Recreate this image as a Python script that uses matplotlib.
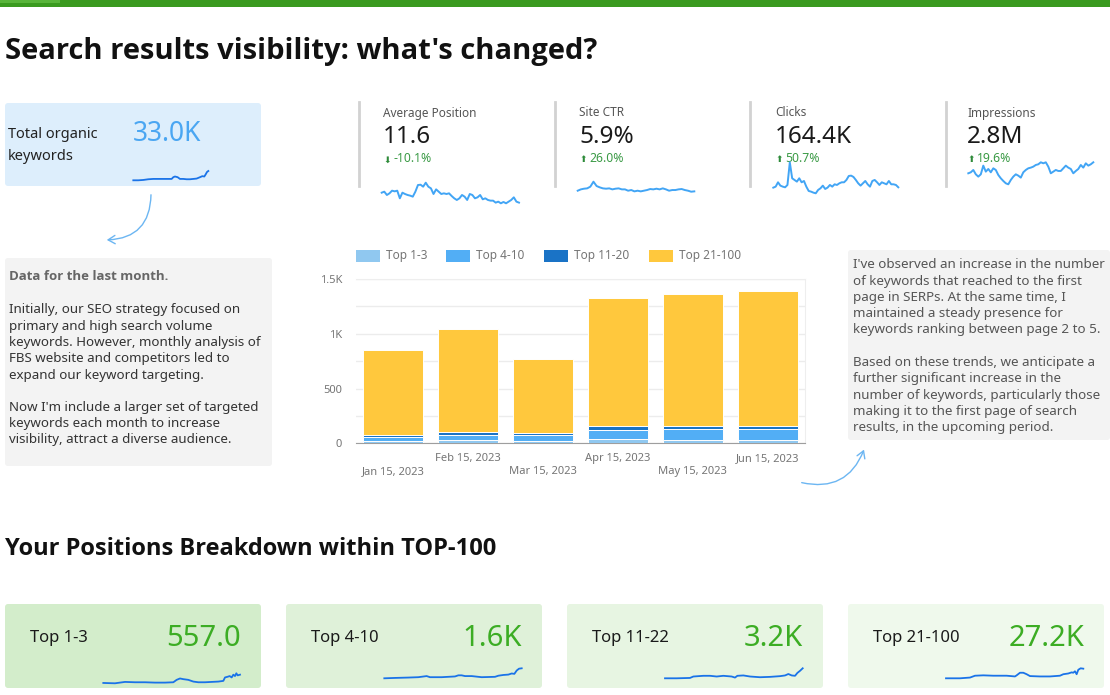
import matplotlib
matplotlib.use('Agg')
import matplotlib.pyplot as plt
from matplotlib.patches import FancyBboxPatch, Rectangle, FancyArrowPatch
import numpy as np

plt.rcParams['font.family'] = ['Noto Sans', 'DejaVu Sans']
BOLD = ['Open Sans', 'DejaVu Sans']

W, H = 1110, 695

# ---- data ----
bar_dates = ['Jan 15, 2023', 'Feb 15, 2023', 'Mar 15, 2023',
             'Apr 15, 2023', 'May 15, 2023', 'Jun 15, 2023']
series_names = ['Top 1-3', 'Top 4-10', 'Top 11-20', 'Top 21-100']
top_1_3 = [20, 30, 20, 38, 30, 30]
top_4_10 = [40, 45, 55, 85, 97, 97]
top_11_20 = [15, 25, 18, 35, 27, 27]
top_21_100 = [773, 939, 673, 1172, 1213, 1240]
series_colors = ['#90c8f0', '#52aef5', '#1a73c6', '#ffc83d']

kpi_names = ['Average Position', 'Site CTR', 'Clicks', 'Impressions']
kpi_values = ['11.6', '5.9%', '164.4K', '2.8M']
kpi_changes = ['-10.1%', '26.0%', '50.7%', '19.6%']
kpi_up = [False, True, True, True]

# sparkline readings (relative heights)
spark_avg_pos = [37, 40, 30, 35, 43, 41, 43, 20, 37, 33, 30, 28, 25, 40, 60, 61, 55, 67,
                 55, 50, 33, 47, 40, 33, 35, 33, 35, 27, 20, 15, 20, 30, 25, 15, 33, 30,
                 20, 23, 30, 17, 20, 15, 13, 13, 7, 10, 5, 9, 5, 10, 15, 23, 10, 7]
spark_ctr = [8, 12, 14, 15, 20, 35, 22, 18, 15, 14, 15, 12, 14, 15, 12, 12, 8, 10, 6,
             8, 6, 8, 10, 13, 12, 14, 12, 15, 12, 8, 10, 10, 12, 13, 10, 8, 5, 6]
spark_clicks = [22, 25, 38, 28, 25, 23, 30, 98, 50, 45, 40, 50, 38, 42, 25, 12, 10, 7,
                5, 15, 20, 28, 18, 22, 30, 25, 32, 30, 35, 38, 38, 45, 57, 58, 54, 45,
                35, 28, 35, 42, 32, 25, 42, 45, 38, 30, 38, 35, 32, 42, 32, 32, 30, 23]
spark_impr = [40, 43, 50, 37, 30, 37, 63, 45, 53, 43, 55, 50, 35, 25, 17, 10, 7, 20, 30,
              37, 33, 27, 43, 50, 55, 57, 60, 65, 67, 73, 70, 73, 60, 40, 45, 50, 47, 47,
              55, 63, 57, 53, 40, 47, 53, 65, 57, 70, 63, 67, 73]
org_x = [25, 40, 55, 70, 85, 100, 115, 130, 140, 145, 150, 158, 165, 175, 185, 195,
         205, 215, 225, 232, 238, 242, 246, 250]
org_y = [2, 2, 3, 5, 6, 6, 6, 6, 6, 11, 13, 11, 6, 6, 5, 5, 6, 7, 11, 14, 13, 19, 26, 29]

card_names = ['Top 1-3', 'Top 4-10', 'Top 11-22', 'Top 21-100']
card_values = ['557.0', '1.6K', '3.2K', '27.2K']
card1_x = [25, 60, 90, 120, 150, 180, 210, 235, 245, 255, 265, 280, 295, 310, 330,
           350, 370, 385, 390, 398, 404, 410, 415, 420, 424, 428, 435]
card1_y = [4, 3, 7, 6, 6, 5, 5, 6, 13, 17, 15, 13, 8, 6, 6, 7, 8, 10, 20, 22, 24, 20,
           28, 24, 32, 26, 28]
card2_x = [868, 900, 940, 970, 995, 1005, 1040, 1080, 1090, 1100, 1110, 1130, 1160,
           1200, 1210, 1225, 1240, 1250, 1258, 1265, 1272, 1280]
card2_y = [3, 4, 5, 6, 9, 6, 6, 8, 11, 11, 9, 9, 6, 7, 10, 12, 13, 16, 15, 24, 29, 30]
card3_x = [15, 50, 90, 100, 130, 150, 170, 190, 215, 225, 232, 250, 270, 300, 330, 360,
           375, 385, 395, 405, 412, 420, 428]
card3_y = [3, 3, 4, 8, 10, 10, 8, 10, 8, 5, 10, 11, 8, 6, 7, 9, 11, 15, 11, 10, 18, 24, 31]
card4_x = [858, 900, 930, 945, 970, 1000, 1040, 1065, 1070, 1080, 1090, 1100, 1110,
           1140, 1170, 1200, 1210, 1225, 1235, 1240, 1245, 1250, 1255, 1262, 1270]
card4_y = [3, 3, 5, 10, 11, 10, 10, 8, 11, 18, 18, 14, 9, 8, 8, 10, 14, 16, 19, 18, 22,
           14, 26, 30, 29]

left_note = ["Initially, our SEO strategy focused on",
             "primary and high search volume",
             "keywords. However, monthly analysis of",
             "FBS website and competitors led to",
             "expand our keyword targeting.",
             "",
             "Now I'm include a larger set of targeted",
             "keywords each month to increase",
             "visibility, attract a diverse audience."]
right_note = ["I've observed an increase in the number",
              "of keywords that reached to the first",
              "page in SERPs. At the same time, I",
              "maintained a steady presence for",
              "keywords ranking between page 2 to 5.",
              "",
              "Based on these trends, we anticipate a",
              "further significant increase in the",
              "number of keywords, particularly those",
              "making it to the first page of search",
              "results, in the upcoming period."]


def rect(x0, y0, x1, y1):
    return [x0 / W, 1 - y1 / H, (x1 - x0) / W, (y1 - y0) / H]


def spark(x0, y0, x1, y1, xs, ys, color, lw=1.4):
    a = fig.add_axes(rect(x0, y0, x1, y1))
    a.plot(xs, ys, color=color, lw=lw, clip_on=False, solid_joinstyle='round')
    a.set_xlim(min(xs), max(xs))
    a.set_ylim(min(ys), max(ys))
    a.axis('off')
    a.patch.set_alpha(0)
    return a


fig = plt.figure(figsize=(W / 100, H / 100), dpi=100)
bg = fig.add_axes([0, 0, 1, 1])
bg.set_xlim(0, W)
bg.set_ylim(H, 0)
bg.axis('off')

# top green strip
bg.add_patch(Rectangle((0, 0), W, 7, color='#3a9a1f', lw=0))
bg.add_patch(Rectangle((0, 0), 60, 3, color='#58b43a', lw=0))

bg.text(5, 52, "Search results visibility: what's changed?", fontsize=21,
        fontweight='bold', family=BOLD, va='center', ha='left', color='#111111')

# total organic keywords card
bg.add_patch(FancyBboxPatch((5, 103), 256, 83, boxstyle='round,pad=0,rounding_size=3',
                            fc='#ddeefc', ec='none'))
bg.text(8, 135, 'Total organic', fontsize=10.5, va='center', color='#222222')
bg.text(8, 156, 'keywords', fontsize=10.5, va='center', color='#222222')
bg.text(133, 134, '33.0K', fontsize=19, va='center', color='#4aa6f2')
spark(133.3, 171, 208.3, 180.3, org_x, org_y, '#1a73e8', 1.3)

bg.add_patch(FancyArrowPatch((151, 192), (104, 240), connectionstyle='arc3,rad=-0.5',
                             arrowstyle='->,head_length=5,head_width=3', color='#6cb6f2',
                             lw=1))

# KPI columns
sep_x = [359, 555, 750, 946]
lab_x = [383, 579, 775, 967]
spark_boxes = [(381.7, 182.7, 519, 203.3), (577.7, 181.7, 694.3, 191.7),
               (773.3, 162.3, 898.3, 193.3), (968.3, 162.3, 1093.3, 184.3)]
spark_data = [spark_avg_pos, spark_ctr, spark_clicks, spark_impr]
for i in range(4):
    bg.plot([sep_x[i], sep_x[i]], [102, 186], color='#d2d2d2', lw=2)
    bg.text(lab_x[i], 113, kpi_names[i], fontsize=8.5, va='center', color='#555555')
    bg.text(lab_x[i], 137, kpi_values[i], fontsize=17.5, va='center', color='#1a1a1a')
    arrow = '⬆' if kpi_up[i] else '⬇'
    bg.text(lab_x[i], 160, arrow, fontsize=6.5, va='center', color='#2e8b3a',
            family=['DejaVu Sans'])
    bg.text(lab_x[i] + 10, 159, kpi_changes[i], fontsize=8.8, va='center', color='#3a9a45')
    sb = spark_boxes[i]
    d = spark_data[i]
    spark(sb[0], sb[1], sb[2], sb[3], list(range(len(d))), d, '#42a5f5', 1.4)

# left note
bg.add_patch(FancyBboxPatch((5, 258), 267, 208, boxstyle='round,pad=0,rounding_size=3',
                            fc='#f3f3f3', ec='none'))
bg.text(9, 277, 'Data for the last month.', fontsize=9.5, fontweight='bold', family=BOLD,
        va='center', color='#666666')
for k, line in enumerate(left_note):
    bg.text(9, 310 + k * 16.25, line, fontsize=9.6, va='center', color='#333333')

# right note
bg.add_patch(FancyBboxPatch((848, 250), 262, 190, boxstyle='round,pad=0,rounding_size=3',
                            fc='#f3f3f3', ec='none'))
for k, line in enumerate(right_note):
    bg.text(853, 265 + k * 16.25, line, fontsize=9.65, va='center', color='#555555')

bg.add_patch(FancyArrowPatch((799, 482), (865, 447), connectionstyle='arc3,rad=0.45',
                             arrowstyle='->,head_length=5,head_width=3', color='#6cb6f2',
                             lw=1))

# stacked bar chart
ax = fig.add_axes(rect(356, 279, 805, 443.3))
xs = np.arange(len(bar_dates))
bottom = np.zeros(len(bar_dates))
for name, vals, col in zip(series_names, [top_1_3, top_4_10, top_11_20, top_21_100],
                           series_colors):
    ax.bar(xs, vals, 0.8, bottom=bottom, color=col, edgecolor='white', linewidth=0.7,
           label=name, zorder=3)
    bottom += np.array(vals)
ax.set_xlim(-0.5, len(bar_dates) - 0.5)
ax.set_ylim(0, 1500)
ax.set_yticks([0, 500, 1000, 1500])
ax.set_yticklabels(['0', '500', '1K', '1.5K'])
ax.set_yticks([250, 750, 1250], minor=True)
ax.grid(axis='y', which='both', color='#ececec', lw=1, zorder=0)
ax.set_xticks(xs)
ax.set_xticklabels([d if i % 2 else '\n' + d for i, d in enumerate(bar_dates)],
                   linespacing=1.25)
ax.tick_params(axis='both', which='both', length=0, colors='#757575', labelsize=8)
ax.tick_params(axis='y', pad=10)
ax.tick_params(axis='x', pad=7)
for s in ['top', 'right']:
    ax.spines[s].set_color('#eeeeee')
ax.spines['left'].set_visible(False)
ax.spines['bottom'].set_color('#9e9e9e')

# legend drawn by hand
leg_x = [356, 446, 544, 649]
for name, col, lx in zip(series_names, series_colors, leg_x):
    bg.add_patch(Rectangle((lx, 250), 24, 12, color=col, lw=0))
    bg.text(lx + 30, 256, name, fontsize=8.5, va='center', color='#757575')

# breakdown
bg.text(5, 549, 'Your Positions Breakdown within TOP-100', fontsize=17, fontweight='bold',
        family=BOLD, va='center', color='#111111')
card_x = [5, 286, 567, 848]
card_colors = ['#d3edcb', '#dff1d9', '#e7f5e2', '#eff9ec']
card_sparks = [((103.3, 673.3, 240, 683.3), card1_x, card1_y),
               ((384.3, 668.3, 521.7, 678.3), card2_x, card2_y),
               ((665, 668.3, 802.7, 678.3), card3_x, card3_y),
               ((946, 668.3, 1083.3, 678.3), card4_x, card4_y)]
for i in range(4):
    cx = card_x[i]
    bg.add_patch(FancyBboxPatch((cx, 604), 256, 84, boxstyle='round,pad=0,rounding_size=3',
                                fc=card_colors[i], ec='none'))
    bg.text(cx + 25, 638, card_names[i], fontsize=12, va='center', color='#1a1a1a')
    bg.text(cx + 236, 638, card_values[i], fontsize=21, va='center', ha='right',
            color='#3cad24')
    b, sx, sy = card_sparks[i]
    spark(b[0], b[1], b[2], b[3], sx, sy, '#1a73e8', 1.3)

fig.savefig('out.png', dpi=100)
